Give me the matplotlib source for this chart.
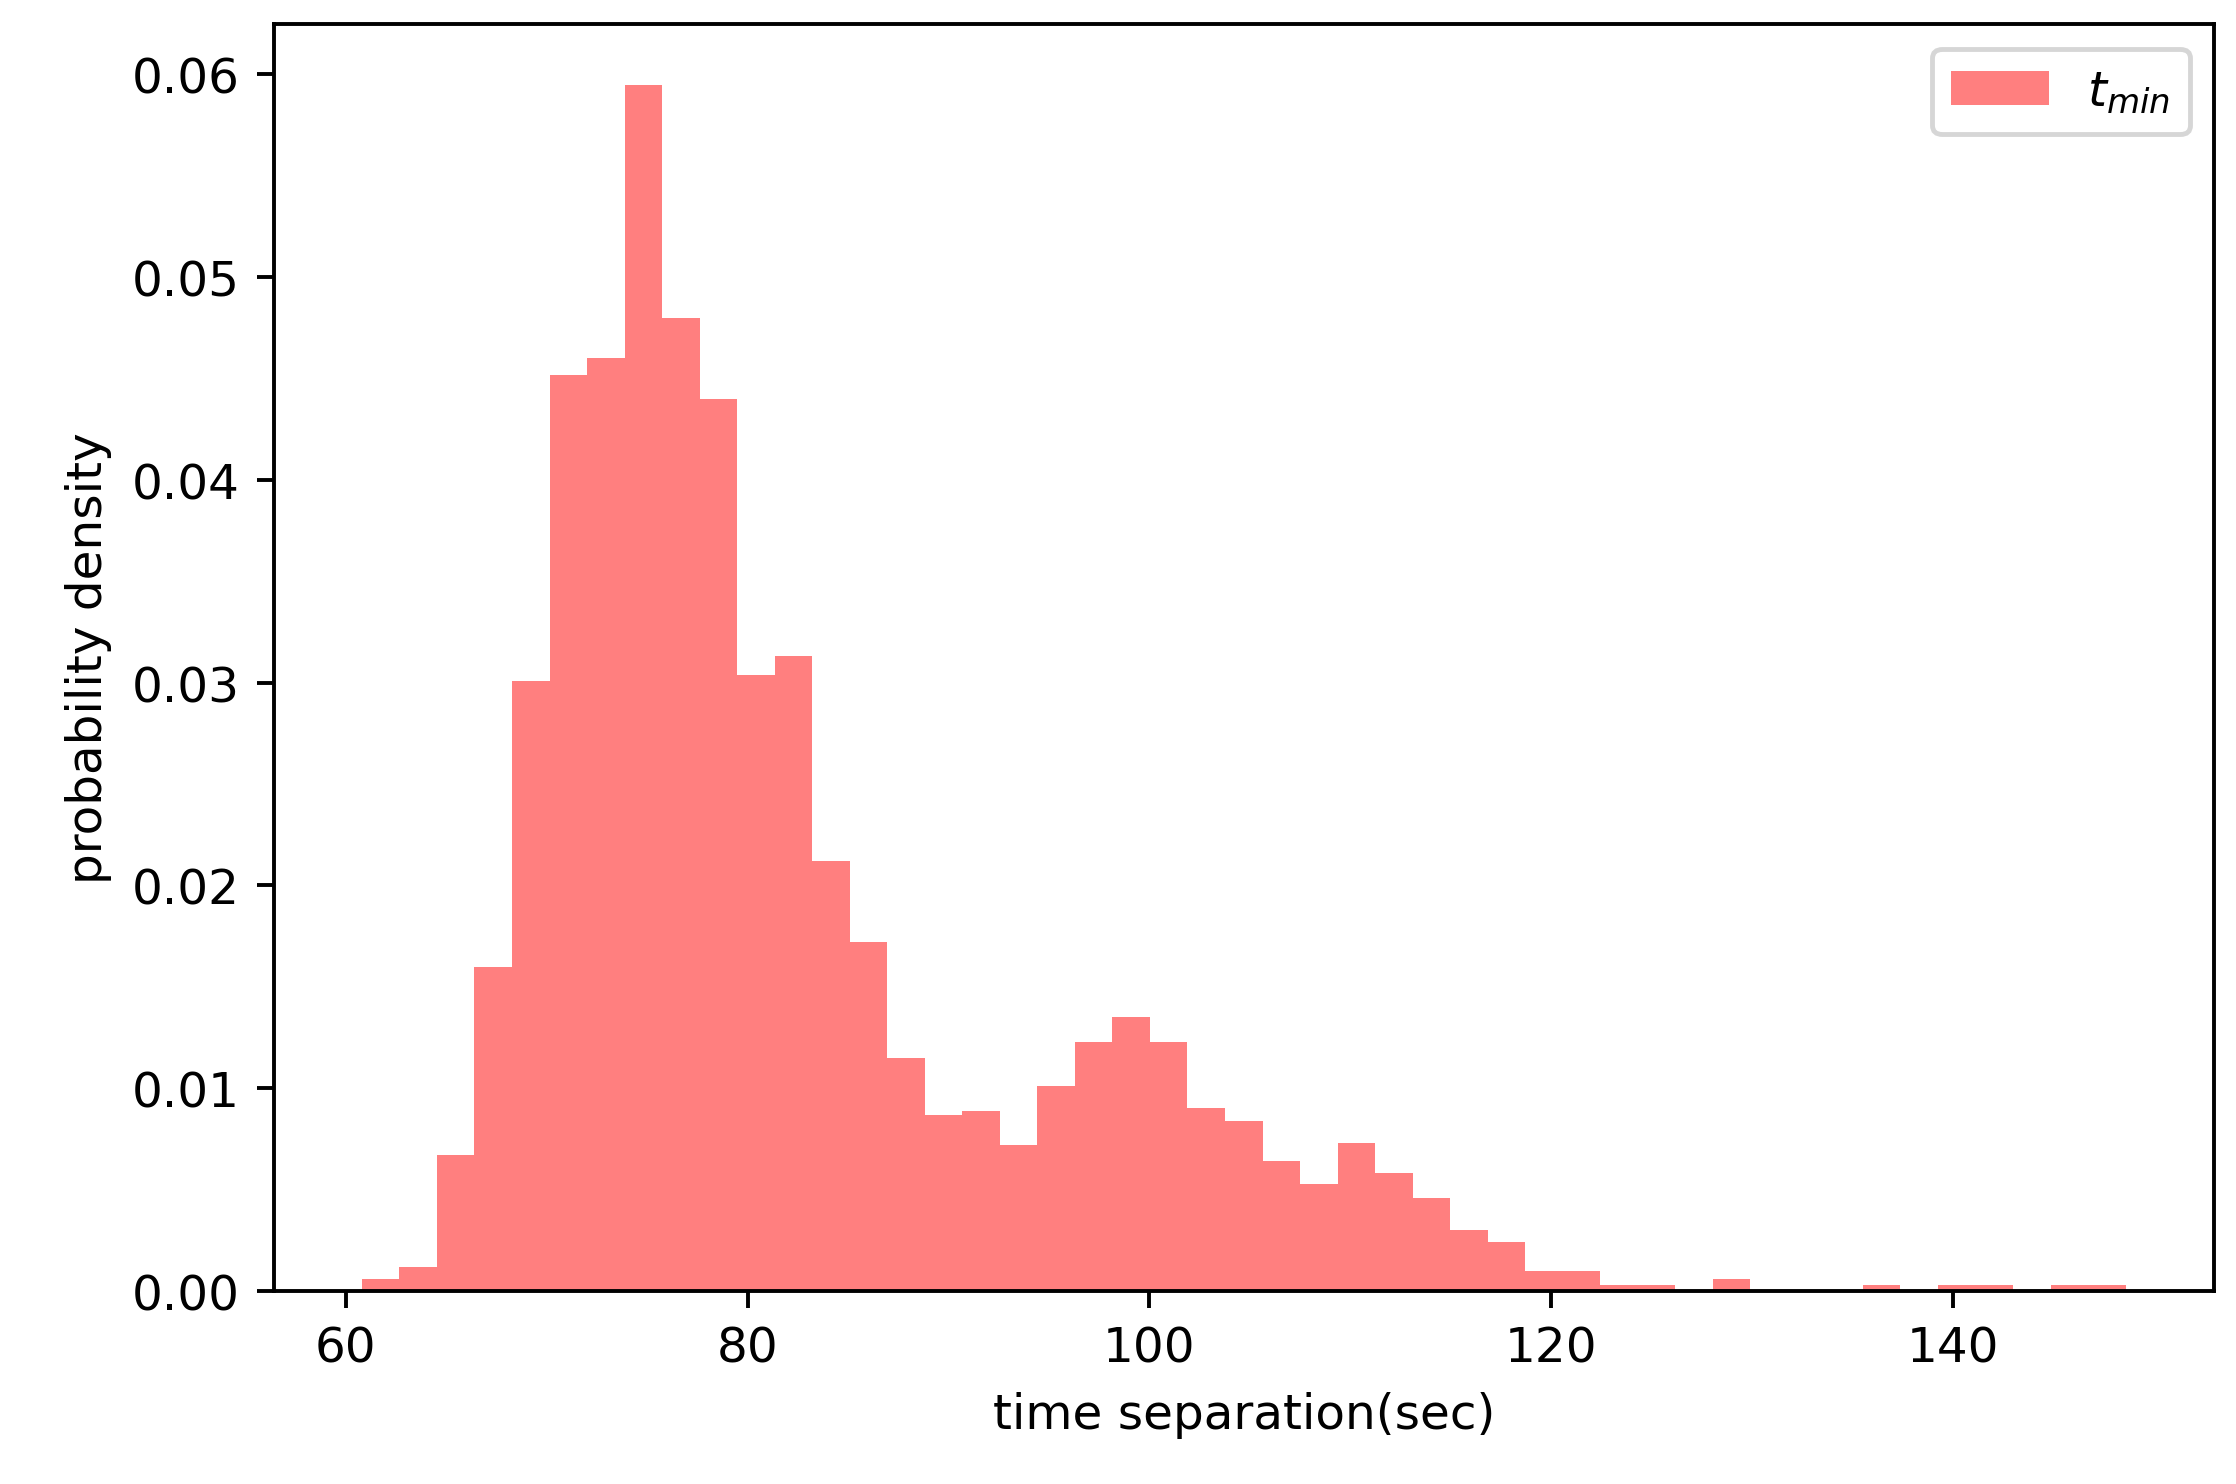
import numpy as np
import matplotlib.pyplot as plt

# histogram: 47 equal bins between these limits
x_start = 60.8
x_end = 148.6
density = [0.0006, 0.0012, 0.0067, 0.0160, 0.0301, 0.0452, 0.0460, 0.0595,
           0.0480, 0.0440, 0.0304, 0.0313, 0.0212, 0.0172, 0.0115, 0.0087,
           0.0089, 0.0072, 0.0101, 0.0123, 0.0135, 0.0123, 0.0090, 0.0084,
           0.0064, 0.0053, 0.0073, 0.0058, 0.0046, 0.0030, 0.0024, 0.0010,
           0.0010, 0.0003, 0.0003, 0.0, 0.0006, 0.0, 0.0, 0.0,
           0.0003, 0.0, 0.0003, 0.0003, 0.0, 0.0003, 0.0003]

edges = np.linspace(x_start, x_end, len(density) + 1)

fig, ax = plt.subplots(figsize=(6.4, 4.25), dpi=349.4)
fig.subplots_adjust(left=0.1224, right=0.99, top=0.983, bottom=0.13)

ax.hist(edges[:-1], bins=edges, weights=density, color="red", alpha=0.5,
        label="$t_{min}$")
ax.set_xlabel("time separation(sec)")
ax.set_ylabel("probability density")
ax.legend(loc="upper right")

plt.savefig("out.png")
